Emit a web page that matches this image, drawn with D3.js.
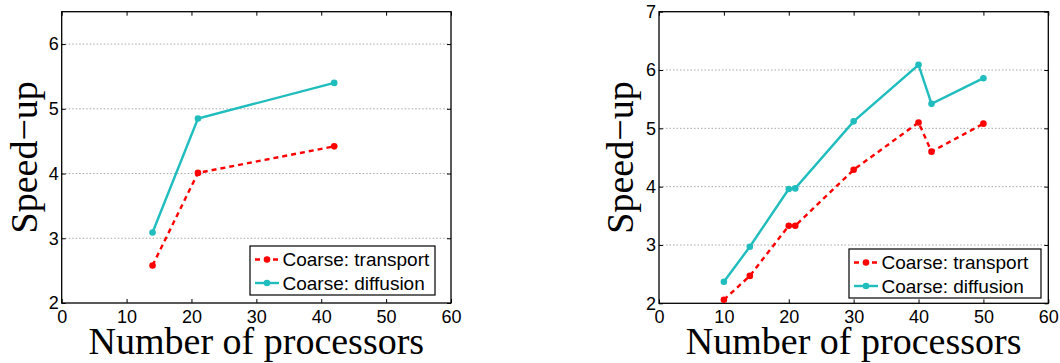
<!DOCTYPE html>
<html>
<head>
<meta charset="utf-8">
<script src="https://cdn.jsdelivr.net/npm/d3@7/dist/d3.min.js"></script>
<style>
  html, body { margin: 0; padding: 0; background: #fff; }
  svg { display: block; }
</style>
</head>
<body>
<svg id="chart" width="1060" height="363"></svg>
<script>
// Speed-up of the coarse solvers versus processor count (two runs)
const seriesNames = ["Coarse: transport", "Coarse: diffusion"];

const leftProcs      = [14, 21, 42];
const leftTransport  = [2.58, 4.01, 4.42];
const leftDiffusion  = [3.09, 4.85, 5.40];

const rightProcs     = [10, 14, 20, 21, 30, 40, 42, 50];
const rightTransport = [2.06, 2.47, 3.33, 3.33, 4.29, 5.10, 4.60, 5.08];
const rightDiffusion = [2.37, 2.97, 3.96, 3.97, 5.12, 6.09, 5.42, 5.86];

const xTicks      = [0, 10, 20, 30, 40, 50, 60];
const leftYTicks  = [2, 3, 4, 5, 6];
const rightYTicks = [2, 3, 4, 5, 6, 7];

const xLabel = "Number of processors";
const yLabel = "Speed\u2212up";

const colors = ["#ff0000", "#1fbdbd"];
const dashes = ["5,4", null];

const svg = d3.select("#chart");

const panels = [
  { x0: 61.7, x1: 451, y0: 303, y1: 11.7, yDomain: [2, 6.5], yTicks: leftYTicks,
    procs: leftProcs, values: [leftTransport, leftDiffusion],
    legend: { x: 250, y: 246, w: 185, h: 49 }, yLabelX: 37 },
  { x0: 659, x1: 1048.3, y0: 303.3, y1: 11.7, yDomain: [2, 7], yTicks: rightYTicks,
    procs: rightProcs, values: [rightTransport, rightDiffusion],
    legend: { x: 849, y: 249, w: 192, h: 49 }, yLabelX: 633 }
];

panels.forEach(p => {
  const x = d3.scaleLinear().domain([0, 60]).range([p.x0, p.x1]);
  const y = d3.scaleLinear().domain(p.yDomain).range([p.y0, p.y1]);
  const g = svg.append("g");

  // dotted horizontal grid
  g.append("g").selectAll("line")
    .data(p.yTicks.filter(t => t > p.yDomain[0] && t < p.yDomain[1]))
    .join("line")
    .attr("x1", p.x0).attr("x2", p.x1)
    .attr("y1", d => y(d)).attr("y2", d => y(d))
    .attr("stroke", "#a8a8a8").attr("stroke-width", 1)
    .attr("stroke-dasharray", "1.5,2");

  // axes with inward ticks
  const bottom = d3.axisBottom(x).tickValues(xTicks).tickSize(-4).tickPadding(7).tickFormat(d3.format("d"));
  const top = d3.axisTop(x).tickValues(xTicks).tickSize(-4).tickFormat("");
  const left = d3.axisLeft(y).tickValues(p.yTicks).tickSize(-4).tickPadding(3).tickFormat(d3.format("d"));
  const right = d3.axisRight(y).tickValues(p.yTicks).tickSize(-4).tickFormat("");

  const styleAxis = sel => {
    sel.select(".domain").remove();
    sel.selectAll("line").attr("stroke", "#000").attr("stroke-width", 1);
    sel.selectAll("text").attr("fill", "#000")
      .attr("font-family", "Liberation Sans, Arial, sans-serif").attr("font-size", 18);
  };
  g.append("g").attr("transform", `translate(0,${p.y0})`).call(bottom).call(styleAxis);
  g.append("g").attr("transform", `translate(0,${p.y1})`).call(top).call(styleAxis);
  g.append("g").attr("transform", `translate(${p.x0},0)`).call(left).call(styleAxis);
  g.append("g").attr("transform", `translate(${p.x1},0)`).call(right).call(styleAxis);

  // frame
  g.append("rect")
    .attr("x", p.x0).attr("y", p.y1)
    .attr("width", p.x1 - p.x0).attr("height", p.y0 - p.y1)
    .attr("fill", "none").attr("stroke", "#000").attr("stroke-width", 1.3);

  // series
  const line = d3.line().x(d => x(d[0])).y(d => y(d[1]));
  p.values.forEach((vals, i) => {
    const pts = p.procs.map((n, k) => [n, vals[k]]);
    g.append("path").datum(pts)
      .attr("d", line)
      .attr("fill", "none")
      .attr("stroke", colors[i]).attr("stroke-width", 2.4)
      .attr("stroke-dasharray", dashes[i]);
    g.append("g").selectAll("circle").data(pts).join("circle")
      .attr("cx", d => x(d[0])).attr("cy", d => y(d[1]))
      .attr("r", 3.3).attr("fill", colors[i]);
  });

  // legend
  const L = p.legend;
  const lg = g.append("g").attr("transform", `translate(${L.x},${L.y})`);
  lg.append("rect").attr("width", L.w).attr("height", L.h)
    .attr("fill", "#fff").attr("stroke", "#000").attr("stroke-width", 1.2);
  seriesNames.forEach((name, i) => {
    const cy = 13.5 + i * 23.5;
    lg.append("line").attr("x1", 5).attr("x2", 29).attr("y1", cy).attr("y2", cy)
      .attr("stroke", colors[i]).attr("stroke-width", 2.4)
      .attr("stroke-dasharray", dashes[i]);
    lg.append("circle").attr("cx", 17).attr("cy", cy).attr("r", 3.3).attr("fill", colors[i]);
    lg.append("text").attr("x", 32.5).attr("y", cy).attr("dy", "0.36em")
      .attr("font-family", "Liberation Sans, Arial, sans-serif").attr("font-size", 19)
      .attr("fill", "#000").text(name);
  });

  // axis titles
  g.append("text")
    .attr("x", (p.x0 + p.x1) / 2).attr("y", 354)
    .attr("text-anchor", "middle")
    .attr("font-family", "Liberation Serif, Times New Roman, serif").attr("font-size", 38)
    .attr("fill", "#000").text(xLabel);
  g.append("text")
    .attr("transform", `translate(${p.yLabelX},${(p.y0 + p.y1) / 2}) rotate(-90)`)
    .attr("text-anchor", "middle")
    .attr("font-family", "Liberation Serif, Times New Roman, serif").attr("font-size", 38)
    .attr("fill", "#000").text(yLabel);
});
</script>
</body>
</html>
